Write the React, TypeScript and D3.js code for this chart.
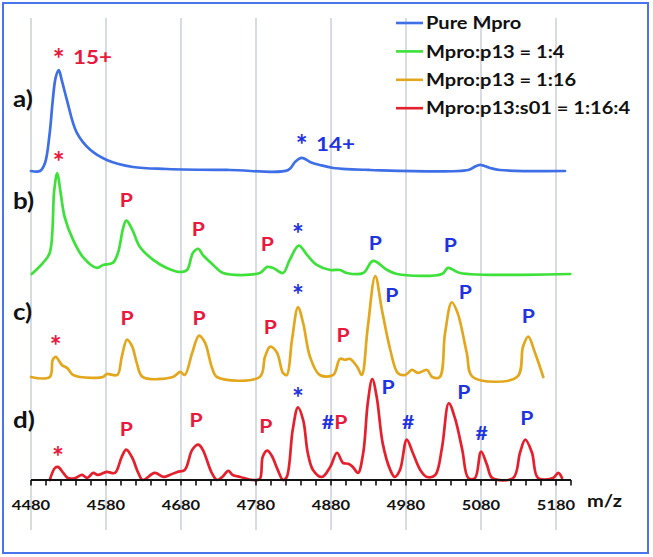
import React from 'react';
import * as d3 from 'd3';

type Pt = [number, number];
type Ann = { mz: number; lv: number; t: string; c: 'r' | 'b' };

const tickLabels = [4480, 4580, 4680, 4780, 4880, 4980, 5080, 5180];
const minorTicks = [4480, 4500, 4520, 4540, 4560, 4580, 4600, 4620, 4640, 4660, 4680, 4700, 4720, 4740, 4760, 4780, 4800, 4820, 4840, 4860, 4880, 4900, 4920, 4940, 4960, 4980, 5000, 5020, 5040, 5060, 5080, 5100, 5120, 5140, 5160, 5180, 5200];
const legendLabels = ['Pure Mpro', 'Mpro:p13 = 1:4', 'Mpro:p13 = 1:16', 'Mpro:p13:s01 = 1:16:4'];
const panelLabels = ['a)', 'b)', 'c)', 'd)'];
const seriesColors = ['#3f6fe6', '#3ee03a', '#e3a71e', '#e5202c'];

// Pure Mpro (relative intensity, %)
const traceA: Pt[] = [
  [4480, 0], [4492, 0], [4498.7, 8], [4505, 38], [4509, 70], [4513, 93], [4517, 100], [4521, 90],
  [4528, 70], [4541, 38], [4559, 21], [4581, 11], [4616, 4], [4661, 2], [4745, 1], [4823, 1],
  [4832, 9], [4841, 13], [4852, 9], [4865, 6], [4883, 3], [4932, 1], [5063, 1], [5071, 4],
  [5079, 6], [5092, 3], [5105, 1], [5192, 0],
];
// Mpro:p13 = 1:4
const traceB: Pt[] = [
  [4481, 0], [4496, 11], [4505, 21], [4511, 83], [4515, 100], [4519, 83], [4525, 56], [4536, 34],
  [4549, 17], [4568, 6], [4576, 9], [4589, 11], [4596, 21], [4603, 46], [4607, 53], [4615, 44],
  [4625, 27], [4643, 14], [4661, 6], [4679, 2], [4688, 4], [4696, 21], [4703, 25], [4709, 19],
  [4723, 9], [4736, 1], [4785, 1], [4795, 7], [4803, 6], [4816, 1], [4825, 14], [4837, 28],
  [4848, 19], [4861, 9], [4879, 4], [4892, 4], [4901, 1], [4923, 1], [4936, 13], [4955, 4],
  [4968, 0], [5028, 0], [5036, 6], [5052, 1], [5199, 0],
];
// Mpro:p13 = 1:16
const traceC: Pt[] = [
  [4480, 0], [4505, 0], [4509, 17], [4513, 20], [4521, 12], [4528, 9], [4536, 2], [4545, 0],
  [4576, 0], [4581, 3], [4595, 2], [4601, 20], [4608, 37], [4615, 30], [4621, 14], [4629, 0],
  [4669, 0], [4679, 5], [4685, 2], [4695, 24], [4704, 41], [4712, 34], [4721, 10], [4728, 0],
  [4785, 0], [4792, 20], [4799, 30], [4808, 24], [4816, 4], [4821, 2], [4828, 37], [4836, 69],
  [4843, 53], [4852, 20], [4865, 2], [4883, 2], [4892, 18], [4899, 17], [4905, 18], [4915, 10],
  [4921, 2], [4929, 49], [4939, 100], [4948, 66], [4959, 27], [4969, 4], [4979, 2], [4988, 7],
  [4996, 4], [5008, 7], [5015, 0], [5025, 0], [5032, 43], [5041, 74], [5049, 63], [5061, 24],
  [5069, 0], [5128, 0], [5136, 30], [5143, 40], [5152, 24], [5163, 0],
];
// Mpro:p13:s01 = 1:16:4
const traceD: Pt[] = [
  [4505, 0], [4512, 12], [4516, 13], [4523, 7], [4529, 2], [4539, 2], [4548, 5], [4555, 2],
  [4563, 7], [4569, 5], [4581, 8], [4592, 7], [4601, 23], [4607, 30], [4615, 22], [4623, 7],
  [4629, 0], [4645, 7], [4657, 3], [4665, 5], [4675, 8], [4685, 10], [4695, 30], [4703, 35],
  [4709, 30], [4721, 7], [4728, 0], [4735, 3], [4743, 9], [4749, 5], [4759, 3], [4776, 0],
  [4785, 1], [4789, 23], [4795, 29], [4801, 24], [4809, 10], [4816, 0], [4821, 3], [4829, 50],
  [4836, 72], [4843, 59], [4849, 27], [4856, 10], [4868, 3], [4879, 13], [4888, 27], [4896, 17],
  [4903, 16], [4909, 13], [4916, 7], [4923, 27], [4929, 76], [4935, 100], [4941, 82], [4949, 36],
  [4959, 10], [4965, 3], [4972, 10], [4981, 40], [4989, 27], [4999, 10], [5008, 3], [5019, 5],
  [5028, 32], [5037, 76], [5045, 62], [5055, 30], [5063, 2], [5072, 2], [5080, 28], [5088, 15],
  [5095, 2], [5123, 2], [5132, 27], [5139, 40], [5148, 27], [5156, 2], [5176, 2], [5183, 7],
  [5188, 2],
];

const annB: Ann[] = [
  { mz: 4517, lv: 118, t: '*', c: 'r' }, { mz: 4607, lv: 73, t: 'P', c: 'r' },
  { mz: 4703, lv: 44, t: 'P', c: 'r' }, { mz: 4795, lv: 29, t: 'P', c: 'r' },
  { mz: 4836, lv: 46, t: '*', c: 'b' }, { mz: 4939, lv: 30, t: 'P', c: 'b' },
  { mz: 5039, lv: 28, t: 'P', c: 'b' },
];
const annC: Ann[] = [
  { mz: 4513, lv: 37, t: '*', c: 'r' }, { mz: 4608, lv: 58, t: 'P', c: 'r' },
  { mz: 4704, lv: 58, t: 'P', c: 'r' }, { mz: 4799, lv: 49, t: 'P', c: 'r' },
  { mz: 4836, lv: 88, t: '*', c: 'b' }, { mz: 4896, lv: 41, t: 'P', c: 'r' },
  { mz: 4961, lv: 81, t: 'P', c: 'b' }, { mz: 5059, lv: 84, t: 'P', c: 'b' },
  { mz: 5143, lv: 60, t: 'P', c: 'b' },
];
const annD: Ann[] = [
  { mz: 4516, lv: 30, t: '*', c: 'r' }, { mz: 4607, lv: 50, t: 'P', c: 'r' },
  { mz: 4700, lv: 59, t: 'P', c: 'r' }, { mz: 4793, lv: 53, t: 'P', c: 'r' },
  { mz: 4836, lv: 88, t: '*', c: 'b' }, { mz: 4876, lv: 57, t: '#', c: 'b' },
  { mz: 4893, lv: 57, t: 'P', c: 'r' }, { mz: 4956, lv: 92, t: 'P', c: 'b' },
  { mz: 4983, lv: 57, t: '#', c: 'b' }, { mz: 5057, lv: 87, t: 'P', c: 'b' },
  { mz: 5081, lv: 46, t: '#', c: 'b' }, { mz: 5141, lv: 61, t: 'P', c: 'b' },
];
const annA: Ann[] = [];

const W = 653;
const H = 557;
const FONT = 'Lato, "Open Sans", sans-serif';
const RED = '#e8193c';
const BLUE = '#1f33e0';
const SX = 1.18;

function T(props: {
  x: number; y: number; size: number; fill?: string; anchor?: 'start' | 'middle' | 'end';
  children: React.ReactNode; sx?: number;
}) {
  const { x, y, size, fill = '#111', anchor = 'start', children, sx = SX } = props;
  return (
    <text
      transform={`translate(${x},${y}) scale(${sx},1)`}
      fontFamily={FONT}
      fontWeight={700}
      fontSize={size}
      fill={fill}
      textAnchor={anchor}
    >
      {children}
    </text>
  );
}

export default function App() {
  const x = d3.scaleLinear().domain([4480, 5200]).range([31, 571]);
  const baselines = [171, 274, 377, 480];
  const traces = [traceA, traceB, traceC, traceD];
  const anns = [annA, annB, annC, annD];
  const yFor = (i: number) => d3.scaleLinear().domain([0, 100]).range([baselines[i], baselines[i] - 101]);
  const panelLabelY = [107, 209, 320, 428];
  const STAR = 28;

  return (
    <svg width={W} height={H} style={{ position: 'absolute', left: 0, top: 0, background: '#fff' }}>
      <rect x={0} y={0} width={W} height={H} fill="#fff" />
      <rect x={3} y={3} width={645} height={550} fill="none" stroke="#4a74ee" strokeWidth={2} />
      {/* gridlines */}
      {tickLabels.map((t) => (
        <line key={t} x1={x(t)} x2={x(t)} y1={18} y2={530} stroke="#c9d1d8" strokeWidth={1.5} />
      ))}
      {/* traces */}
      {traces.map((tr, i) => {
        const y = yFor(i);
        const line = d3.line<Pt>().x((d) => x(d[0])).y((d) => y(d[1])).curve(d3.curveCatmullRom.alpha(0.5));
        return (
          <path key={i} d={line(tr) || ''} fill="none" stroke={seriesColors[i]} strokeWidth={2.7}
            strokeLinejoin="round" strokeLinecap="round" />
        );
      })}
      {/* axis */}
      <line x1={x(4480)} x2={x(5200)} y1={480} y2={480} stroke="#111" strokeWidth={2} />
      {minorTicks.map((t) => (
        <line key={t} x1={x(t)} x2={x(t)} y1={480} y2={485.5} stroke="#111" strokeWidth={1.6} />
      ))}
      {tickLabels.map((t) => (
        <T key={t} x={x(t)} y={510} size={14} anchor="middle">{t}</T>
      ))}
      <T x={587} y={507} size={17}>m/z</T>
      {/* panel labels */}
      {panelLabels.map((l, i) => (
        <T key={l} x={13} y={panelLabelY[i]} size={22}>{l}</T>
      ))}
      {/* charge state labels on a */}
      <T x={x(4517)} y={yFor(0)(118) + 0.6 * STAR} size={STAR} fill={RED} anchor="middle" sx={1}>*</T>
      <T x={x(4536)} y={yFor(0)(113) + 6.8} size={19} fill={RED}>15+</T>
      <T x={x(4841)} y={yFor(0)(32) + 0.6 * STAR} size={STAR} fill={BLUE} anchor="middle" sx={1}>*</T>
      <T x={x(4860)} y={yFor(0)(27) + 6.8} size={19} fill={BLUE}>14+</T>
      {/* annotations */}
      {anns.map((list, i) =>
        list.map((a, j) => {
          const star = a.t === '*';
          const fs = star ? STAR : 18;
          const yy = yFor(i)(a.lv) + (star ? 0.6 : 0.36) * fs;
          return (
            <T key={`${i}-${j}`} x={x(a.mz)} y={yy} size={fs} anchor="middle" sx={star ? 1 : SX}
              fill={a.c === 'r' ? RED : BLUE}>
              {a.t}
            </T>
          );
        })
      )}
      {/* legend */}
      {legendLabels.map((l, i) => {
        const cy = 23 + i * 28.4;
        return (
          <g key={l}>
            <line x1={396} x2={423} y1={cy} y2={cy} stroke={seriesColors[i]} strokeWidth={2.6} />
            <T x={426} y={cy + 6.2} size={17}>{l}</T>
          </g>
        );
      })}
    </svg>
  );
}
